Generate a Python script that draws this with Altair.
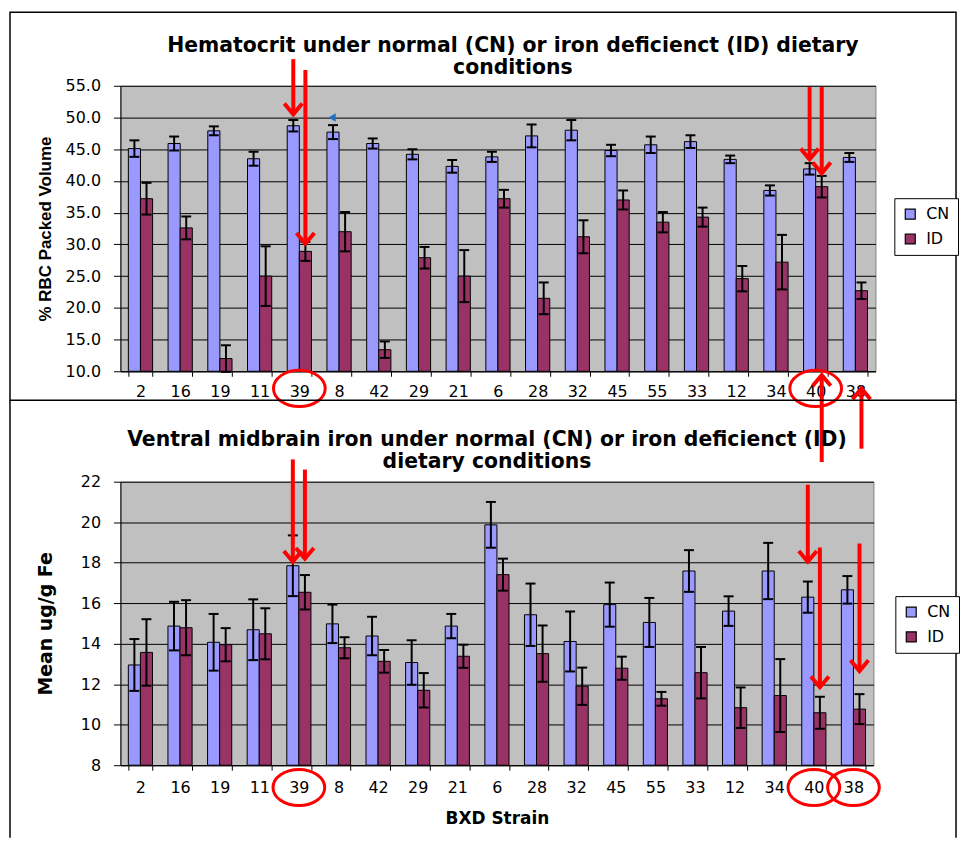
import altair as alt
import pandas as pd

# ---------------- data ----------------
strains = ["2", "16", "19", "11", "39", "8", "42", "29", "21", "6",
           "28", "32", "45", "55", "33", "12", "34", "40", "38"]
conds = ["CN", "ID"]
colors = ["#9999FF", "#993366"]

hct_cn = [45.1, 45.9, 47.9, 43.5, 48.7, 47.7, 45.9, 44.2, 42.3, 43.8,
          47.1, 48.0, 44.8, 45.7, 46.2, 43.4, 38.5, 41.9, 43.7]
hct_cn_err = [1.3, 1.1, 0.7, 1.1, 0.9, 1.1, 0.8, 0.8, 1.0, 0.8,
              1.8, 1.6, 0.9, 1.3, 1.0, 0.6, 0.8, 0.9, 0.7]
hct_id = [37.2, 32.6, 12.0, 25.0, 28.9, 32.0, 13.4, 27.9, 25.0, 37.2,
          21.5, 31.2, 37.0, 33.5, 34.3, 24.6, 27.2, 39.1, 22.7]
hct_id_err = [2.5, 1.8, 2.1, 4.7, 1.5, 3.1, 1.3, 1.7, 4.1, 1.4,
              2.5, 2.6, 1.5, 1.6, 1.5, 2.0, 4.3, 1.7, 1.3]
hct_ticks = [10.0, 15.0, 20.0, 25.0, 30.0, 35.0, 40.0, 45.0, 50.0, 55.0]

fe_cn = [12.95, 14.87, 14.07, 14.69, 17.85, 14.98, 14.38, 13.07, 14.87, 19.87,
         15.43, 14.11, 15.93, 15.05, 17.59, 15.61, 17.59, 16.30, 16.66]
fe_cn_err = [1.28, 1.20, 1.40, 1.50, 1.50, 0.95, 0.95, 1.10, 0.60, 1.13,
             1.54, 1.48, 1.09, 1.21, 1.03, 0.73, 1.39, 0.77, 0.68]
fe_id = [13.57, 14.79, 13.95, 14.49, 16.54, 13.80, 13.13, 11.70, 13.38, 17.41,
         13.51, 11.90, 12.79, 11.28, 12.57, 10.84, 11.44, 10.59, 10.77]
fe_id_err = [1.64, 1.36, 0.82, 1.26, 0.85, 0.52, 0.56, 0.85, 0.57, 0.79,
             1.39, 0.92, 0.57, 0.34, 1.27, 1.00, 1.80, 0.79, 0.74]
fe_ticks = [8, 10, 12, 14, 16, 18, 20, 22]

# annotation arrows / circles (in data units of each panel)
hct_down_strain = ["39", "39", "40", "40"]
hct_down_cond = ["CN", "ID", "CN", "ID"]
hct_down_from = [59.2, 57.5, 54.8, 54.8]
hct_down_tip = [50.5, 30.1, 43.4, 41.2]
hct_up_strain = ["40", "38"]
hct_up_cond = ["ID", "ID"]
hct_up_from = [-4.3, -2.2]
hct_up_tip = [9.4, 7.3]
hct_circle_strain = ["39", "40"]
hct_circle_y = [7.3, 7.3]
hct_marker_strain = ["8"]
hct_marker_y = [50.0]

fe_down_strain = ["39", "39", "40", "40", "38"]
fe_down_cond = ["CN", "ID", "CN", "ID", "ID"]
fe_down_from = [23.1, 22.6, 21.85, 18.75, 18.95]
fe_down_tip = [18.05, 18.2, 18.05, 11.85, 12.65]
fe_circle_strain = ["39", "40", "38"]
fe_circle_y = [6.9, 6.9, 6.9]

DOWN_HEAD = "M-1,-1.2L0,0L1,-1.2"
UP_HEAD = "M-1,1.2L0,0L1,1.2"
ELLIPSE = "M-1,0A1,0.7,0,1,0,1,0A1,0.7,0,1,0,-1,0Z"


def long_table(cn, cn_err, idv, id_err):
    rows = []
    for s, v, e in zip(strains, cn, cn_err):
        rows.append({"strain": s, "cond": "CN", "value": v, "lo": v - e, "hi": v + e})
    for s, v, e in zip(strains, idv, id_err):
        rows.append({"strain": s, "cond": "ID", "value": v, "lo": v - e, "hi": v + e})
    return pd.DataFrame(rows)


def panel(cn, cn_err, idv, id_err, ticks, ymin, ymax, fmt, ytitle, ytsize,
          ytfont, ytpad, width, height, title, title_dx, title_offset, leg_x, leg_y,
          down, up, circles, marker, xtitle, xlabpad, frame):
    df = long_table(cn, cn_err, idv, id_err)
    xaxis_kw = dict(labelAngle=0, tickBand="extent", tickSize=5, labelPadding=xlabpad)
    if xtitle:
        xaxis_kw.update(title=xtitle, titleFont="DejaVu Sans", titleFontSize=17,
                        titleFontWeight="bold", titlePadding=16)
    else:
        xaxis_kw.update(title=None)
    x = alt.X("strain:N", sort=strains,
              scale=alt.Scale(domain=strains, paddingInner=0.39, paddingOuter=0.2),
              axis=alt.Axis(**xaxis_kw))
    xo = alt.XOffset("cond:N", scale=alt.Scale(domain=conds, paddingInner=0, paddingOuter=0))
    ys = alt.Scale(domain=[ymin, ymax], nice=False, zero=False)
    yaxis = alt.Axis(title=ytitle, values=ticks, format=fmt, tickSize=7, labelPadding=13,
                     grid=True, gridColor="black", gridWidth=1,
                     titleFont=ytfont, titleFontSize=ytsize, titleFontWeight="bold",
                     titlePadding=ytpad)

    def Y(field):
        return alt.Y(field, type="quantitative", scale=ys, axis=yaxis)

    legend = alt.Legend(title=None, orient="none", legendX=leg_x, legendY=leg_y,
                        strokeColor="black", fillColor="white", padding=8,
                        symbolType="square", symbolSize=100, symbolStrokeColor="black",
                        symbolStrokeWidth=1.2, labelFont="DejaVu Sans", labelFontSize=16,
                        labelColor="black", rowPadding=9, labelOffset=8, cornerRadius=0)

    bars = alt.Chart(df).mark_bar(stroke="black", strokeWidth=1).encode(
        x=x, xOffset=xo, y=Y("value"), y2=alt.datum(ymin),
        color=alt.Color("cond:N", scale=alt.Scale(domain=conds, range=colors), legend=legend),
    )
    err = alt.Chart(df).mark_rule(color="black", strokeWidth=2).encode(
        x=x, xOffset=xo, y=Y("lo"), y2="hi")
    cap_lo = alt.Chart(df).mark_tick(color="black", thickness=2, size=10, opacity=1).encode(
        x=x, xOffset=xo, y=Y("lo"))
    cap_hi = alt.Chart(df).mark_tick(color="black", thickness=2, size=10, opacity=1).encode(
        x=x, xOffset=xo, y=Y("hi"))

    layers = [bars, err, cap_lo, cap_hi]

    for (ds, dc, dfrom, dtip), head in ((down, DOWN_HEAD), (up, UP_HEAD)):
        if not ds:
            continue
        adf = pd.DataFrame({"strain": ds, "cond": dc, "y_from": dfrom, "y_tip": dtip})
        layers.append(alt.Chart(adf).mark_rule(color="red", strokeWidth=4).encode(
            x=x, xOffset=xo, y=Y("y_from"), y2="y_tip"))
        layers.append(alt.Chart(adf).mark_point(shape=head, size=324, filled=False,
                                                color="red", strokeWidth=4, opacity=1).encode(
            x=x, xOffset=xo, y=Y("y_tip")))

    cs, cy = circles
    cdf = pd.DataFrame({"strain": cs, "cy": cy})
    layers.append(alt.Chart(cdf).mark_point(shape=ELLIPSE, size=2704, filled=False,
                                            color="red", strokeWidth=3, opacity=1).encode(
        x=x, y=Y("cy")))

    if marker:
        ms, my = marker
        mdf = pd.DataFrame({"strain": ms, "my": my})
        layers.append(alt.Chart(mdf).mark_point(shape="triangle-left", size=70, filled=True,
                                                color="#1F6FBF", opacity=1, xOffset=-7).encode(
            x=x, y=Y("my")))

    one = pd.DataFrame({"k": [0]})
    if frame == "box":
        layers.append(alt.Chart(one).mark_rect(fill="transparent", stroke="black",
                                               strokeWidth=1.5).encode(
            x=alt.value(-111), x2=alt.value(840), y=alt.value(-74), y2=alt.value(316)))
    else:
        for xv in (-111, 840):
            layers.append(alt.Chart(one).mark_rule(color="black", strokeWidth=1.5).encode(
                x=alt.value(xv), y=alt.value(-82), y2=alt.value(358)))

    return alt.layer(*layers).properties(
        width=width, height=height,
        title=alt.Title(text=title, dx=title_dx, anchor="middle", offset=title_offset,
                        font="DejaVu Sans", fontSize=20.5, fontWeight="bold",
                        lineHeight=22, color="black"),
    )


top = panel(hct_cn, hct_cn_err, hct_id, hct_id_err, hct_ticks, 10, 55, ".1f",
            "% RBC Packed Volume", 17, "Liberation Sans", 11, 759, 287,
            ["Hematocrit  under normal (CN) or iron deficienct (ID) dietary", "conditions"],
            15, -67, 778, 113,
            (hct_down_strain, hct_down_cond, hct_down_from, hct_down_tip),
            (hct_up_strain, hct_up_cond, hct_up_from, hct_up_tip),
            (hct_circle_strain, hct_circle_y), (hct_marker_strain, hct_marker_y),
            None, 7, "box")

bottom = panel(fe_cn, fe_cn_err, fe_id, fe_id_err, fe_ticks, 8, 22, "d",
               "Mean ug/g Fe", 19, "DejaVu Sans", 25, 757, 285,
               ["Ventral midbrain iron under normal (CN) or iron deficienct (ID)",
                "dietary conditions"],
               -10, -73, 779, 115,
               (fe_down_strain, fe_down_cond, fe_down_from, fe_down_tip),
               ([], [], [], []),
               (fe_circle_strain, fe_circle_y), None,
               "BXD Strain", 9, "lines")

chart = alt.vconcat(top, bottom, spacing=111, bounds="flush").resolve_scale(
    x="independent", y="independent", xOffset="independent", color="independent"
).properties(padding=0, background="white").configure_view(
    fill="#C0C0C0", stroke="#808080", strokeWidth=1
).configure_axis(
    labelFont="DejaVu Sans", labelFontSize=16, labelColor="black",
    tickColor="black", domainColor="black", tickWidth=1, domainWidth=1,
    titleColor="black"
)

chart.save("out.html", embed_options={"renderer": "svg", "actions": False})
